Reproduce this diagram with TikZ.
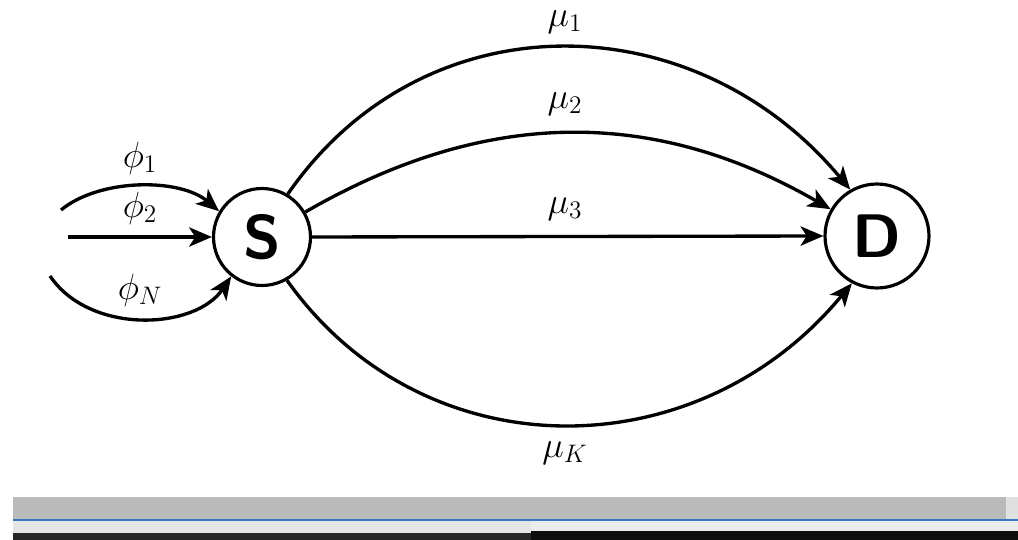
\documentclass[tikz,border=0pt]{standalone}
\usetikzlibrary{arrows.meta}
\begin{document}
\begin{tikzpicture}[x=0.02cm,y=-0.02cm,
  state/.style={circle,draw,line width=1.8pt,inner sep=0pt,font=\fontsize{35}{35}\selectfont\sffamily\bfseries},
  edge/.style={line width=1.9pt,-{Stealth[length=13pt,width=11pt,inset=3.5pt]}},
  lab/.style={font=\fontsize{22}{26}\selectfont,inner sep=0pt}]
\useasboundingbox (0,0) rectangle (1018,540);
% nodes
\node[state,minimum size=1.94cm] (S) at (262,237) {S};
\node[state,minimum size=2.08cm] (D) at (877,236) {D};
% incoming
\coordinate (i1) at (61,210);
\coordinate (i2) at (68,237);
\coordinate (iN) at (50,276);
\draw[edge] (i1) .. controls (100,178) and (180,178) .. (S.149);
\draw[edge] (i2) -- (S.180);
\draw[edge] (iN) .. controls (90,335) and (195,330) .. (S.232);
\node[lab] (f1) at (140,158) {$\phi_1$};
\node[lab] (f2) at (140,208) {$\phi_2$};
\node[lab] (fN) at (140,290) {$\phi_N$};
% S to D
\draw[edge] (S.59) .. controls (424,-3) and (694,2) .. (D.120);
\draw[edge] (S.30) .. controls (482,110) and (650,105) .. (D.150);
\draw[edge] (S.0) -- (D.180);
\draw[edge] (S.-60) .. controls (423,472) and (696,472) .. (D.242);
\node[lab] (m1) at (565,22) {$\mu_1$};
\node[lab] (m2) at (565,104) {$\mu_2$};
\node[lab] (m3) at (565,209) {$\mu_3$};
\node[lab] (mK) at (565,453) {$\mu_K$};
% screenshot strip at bottom
\fill[black!27] (13,497) rectangle (1006,519);
\fill[black!12] (1006,497) rectangle (1018,519);
\fill[blue!50!cyan!70!black!80] (13,519) rectangle (1018,521);
\fill[black!10] (13,521) rectangle (531,533);
\fill[black!8] (531,521) rectangle (1018,531);
\fill[black!85] (13,533) rectangle (531,540);
\fill[black!95] (531,531) rectangle (1018,540);
\end{tikzpicture}
\end{document}
